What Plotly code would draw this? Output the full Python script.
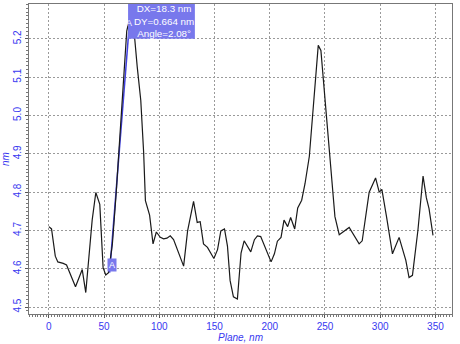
import plotly.graph_objects as go

# Profile data (Plane, nm  vs height, nm)
plane_nm = [0, 2.4, 5.8, 8.1, 13, 16, 24.1, 30.2, 33.4, 39.2, 42.5, 46.1, 49.1, 51.5, 54,
            57.5, 61, 64.5, 68, 70.5, 73.3, 76.5, 80, 83.2, 85.8, 87.4, 91.2, 94.3, 97.3, 100.9,
            103.9, 106.9, 109.9, 112.9, 122, 125.6, 131, 134.3, 137, 140, 143.6, 149.4,
            152.7, 155.7, 159, 161.7, 164.1, 167.1, 170.7, 174, 176.8, 182.8, 186.1, 188.8,
            191.8, 201.2, 204.2, 206.9, 210.2, 212.9, 216.2, 218.9, 222.6, 225.3, 228.9,
            231.9, 235.8, 240, 243.9, 246.3, 259, 262.9, 271.9, 280.9, 283.7, 290, 295.8,
            299.1, 301.5, 305.7, 311.1, 317.1, 323.2, 326.1, 329.2, 334.2, 338.8, 341.8,
            344.2, 347.8]
height_nm = [4.710, 4.704, 4.633, 4.618, 4.614, 4.610, 4.553, 4.598, 4.538, 4.727, 4.799,
             4.768, 4.603, 4.584, 4.590, 4.665, 4.800, 4.950, 5.120, 5.220, 5.256, 5.240,
             5.127, 5.040, 4.904, 4.778, 4.740, 4.665, 4.696, 4.682, 4.678, 4.680, 4.686, 4.676,
             4.607, 4.699, 4.776, 4.721, 4.723, 4.665, 4.656, 4.627, 4.650, 4.699, 4.704,
             4.659, 4.569, 4.527, 4.521, 4.641, 4.673, 4.644, 4.676, 4.686, 4.684, 4.618,
             4.639, 4.672, 4.682, 4.727, 4.710, 4.734, 4.704, 4.759, 4.779, 4.822, 4.893,
             5.040, 5.183, 5.170, 4.736, 4.689, 4.708, 4.665, 4.673, 4.800, 4.837, 4.800,
             4.807, 4.736, 4.639, 4.682, 4.622, 4.577, 4.583, 4.702, 4.842, 4.785, 4.757,
             4.687]

# Measurement cursor A -> B
meas_x = [55.0, 73.3]
meas_y = [4.590, 5.254]
meas_text = ["DX=18.3 nm", "DY=0.664 nm", "Angle=2.08°"]

x_ticks = [0, 50, 100, 150, 200, 250, 300, 350]
y_ticks = [4.5, 4.6, 4.7, 4.8, 4.9, 5.0, 5.1, 5.2]

blue = "#3838F0"
box_blue = "#7878EC"

x_range = [-18, 365]
y_range = [4.482, 5.291]

fig = go.Figure()
fig.add_trace(go.Scatter(x=meas_x, y=meas_y, mode="lines",
                         line=dict(color="#4040E0", width=1.5), hoverinfo="skip"))
fig.add_trace(go.Scatter(x=plane_nm, y=height_nm, mode="lines",
                         line=dict(color="#1a1a1a", width=1.2)))

# info box (background rectangle + text)
box_x0 = meas_x[1] - 1.6
box_x1 = box_x0 + 60.5
fig.add_shape(type="rect", xref="x", yref="y", x0=box_x0, x1=box_x1,
              y0=y_ticks[-1], y1=y_range[1], fillcolor=box_blue,
              line=dict(width=0), layer="above")
fig.add_annotation(x=(box_x0 + box_x1) / 2, y=(y_ticks[-1] + y_range[1]) / 2,
                   xref="x", yref="y", xanchor="center", yanchor="middle", xshift=3,
                   text="<br>".join(meas_text), showarrow=False, align="center",
                   font=dict(family="Liberation Sans", size=9.8, color="white"))
fig.add_annotation(x=meas_x[1], y=meas_y[1], text="A", showarrow=False,
                   xshift=-1, yshift=-5,
                   font=dict(family="Liberation Sans", size=9, color="#f4f4ff"))
fig.add_annotation(x=meas_x[0], y=meas_y[0], text="A", showarrow=False,
                   xshift=2, yshift=8, bgcolor=box_blue, borderpad=1,
                   font=dict(family="Liberation Sans", size=9, color="white"))

axis_common = dict(showline=True, mirror=True, linecolor="#777", linewidth=1,
                   showgrid=True, gridcolor="#9a9a9a", griddash="2px,2px", gridwidth=1,
                   zeroline=False, ticks="outside", ticklen=3, tickcolor="#555",
                   tickfont=dict(family="Liberation Sans", size=10, color=blue))

fig.update_xaxes(range=x_range, tickvals=x_ticks,
                 minor=dict(dtick=2.5, ticklen=2, tickcolor="#777", ticks="outside", showgrid=False),
                 title=dict(text="<i>Plane, nm</i>", standoff=2,
                            font=dict(family="Liberation Sans", size=10, color=blue)),
                 **axis_common)
fig.update_yaxes(range=y_range, tickvals=y_ticks, tickformat=".1f", tickangle=-90,
                 minor=dict(dtick=0.01, ticklen=2, tickcolor="#777", ticks="outside", showgrid=False),
                 title=dict(text="<i>nm</i>", standoff=2,
                            font=dict(family="Liberation Sans", size=10, color=blue)),
                 **axis_common)

fig.update_layout(width=460, height=344, showlegend=False,
                  margin=dict(l=28, r=8, t=3, b=27),
                  paper_bgcolor="white", plot_bgcolor="white")

fig.write_html("out.html")
